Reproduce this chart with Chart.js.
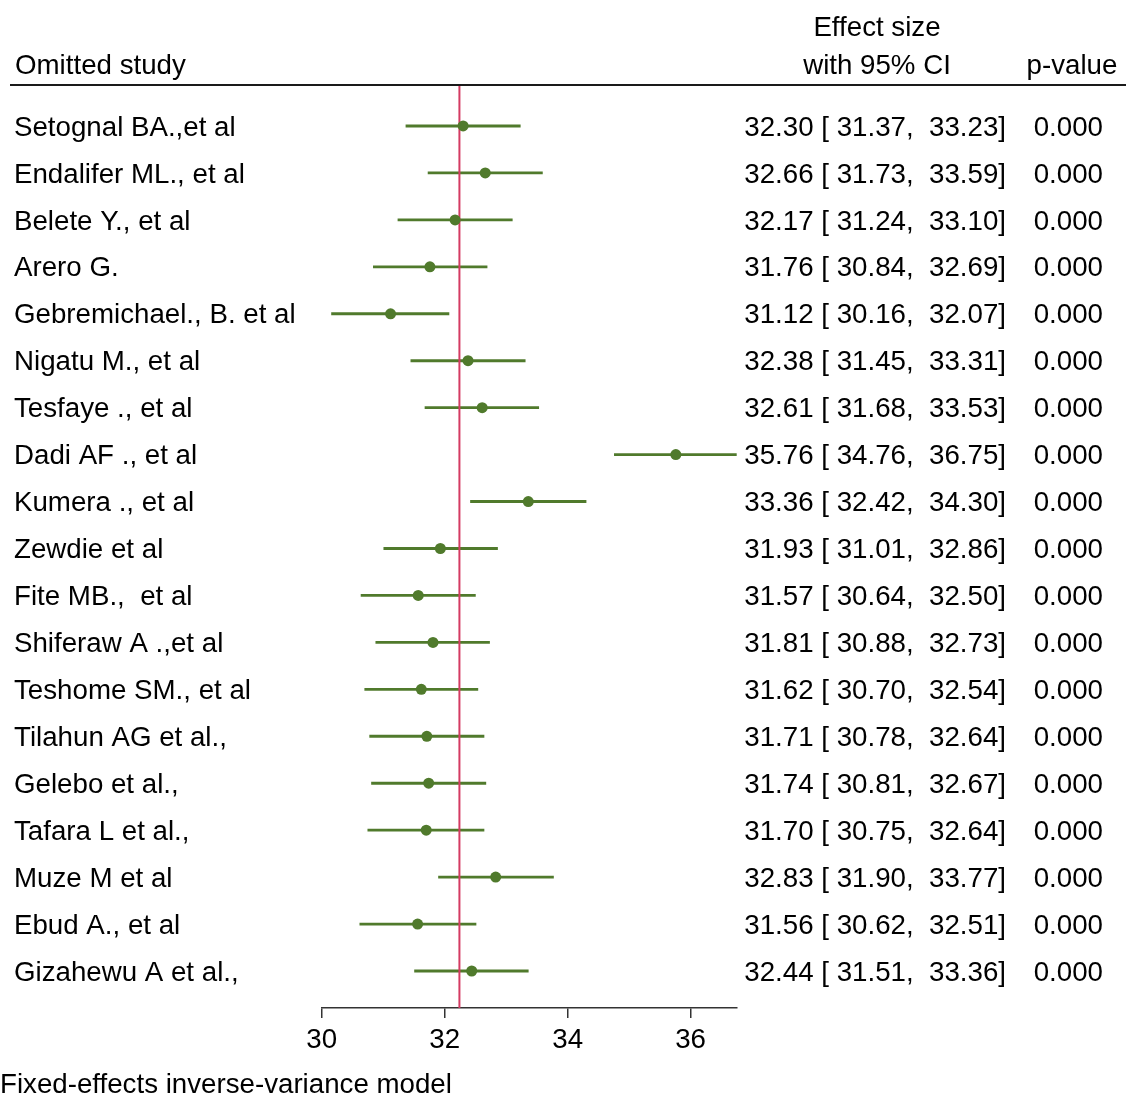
<!DOCTYPE html>
<html>
<head>
<meta charset="utf-8">
<script src="https://cdn.jsdelivr.net/npm/chart.js@4/dist/chart.umd.min.js"></script>
<style>
  html, body { margin: 0; padding: 0; background: #fff; }
  #wrap { width: 1126px; height: 1094px; position: relative; }
</style>
</head>
<body>
<div id="wrap"><canvas id="forest"></canvas></div>
<script>
// leave-one-out results
const studies = [
    'Setognal BA.,et al', 'Endalifer ML., et al', 'Belete Y., et al', 'Arero G.',
    'Gebremichael., B. et al', 'Nigatu M., et al', 'Tesfaye ., et al', 'Dadi AF ., et al',
    'Kumera ., et al', 'Zewdie et al', 'Fite MB.,  et al', 'Shiferaw A .,et al',
    'Teshome SM., et al', 'Tilahun AG et al.,', 'Gelebo et al.,', 'Tafara L et al.,',
    'Muze M et al', 'Ebud A., et al', 'Gizahewu A et al.,'
];
const effect = [32.30, 32.66, 32.17, 31.76, 31.12, 32.38, 32.61, 35.76, 33.36, 31.93,
                31.57, 31.81, 31.62, 31.71, 31.74, 31.70, 32.83, 31.56, 32.44];
const lower = [31.37, 31.73, 31.24, 30.84, 30.16, 31.45, 31.68, 34.76, 32.42, 31.01,
               30.64, 30.88, 30.70, 30.78, 30.81, 30.75, 31.90, 30.62, 31.51];
const upper = [33.23, 33.59, 33.10, 32.69, 32.07, 33.31, 33.53, 36.75, 34.30, 32.86,
               32.50, 32.73, 32.54, 32.64, 32.67, 32.64, 33.77, 32.51, 33.36];
const pvalues = ['0.000', '0.000', '0.000', '0.000', '0.000', '0.000', '0.000', '0.000', '0.000', '0.000',
                 '0.000', '0.000', '0.000', '0.000', '0.000', '0.000', '0.000', '0.000', '0.000'];
const overall = 32.24;
const xTicks = [30, 32, 34, 36];

const FONT = '"Liberation Sans", Arial, Helvetica, sans-serif';
const FSIZE = 27.7;
const GREEN = '#507a2c';
const RED = '#d43b62';

// draws the red overall line between whiskers and dots, plus the text columns
const forestText = {
    id: 'forestText',
    afterDatasetDraw(chart, args) {
        if (args.index !== 1) return;
        const { ctx, chartArea } = chart;
        const x = chart.scales.x.getPixelForValue(overall);
        ctx.save();
        ctx.strokeStyle = RED;
        ctx.lineWidth = 2;
        ctx.beginPath();
        ctx.moveTo(x, chartArea.top);
        ctx.lineTo(x, chartArea.bottom);
        ctx.stroke();
        ctx.restore();
    },
    afterDraw(chart) {
        const { ctx } = chart;
        const y = chart.scales.y;
        ctx.save();
        ctx.fillStyle = '#000';
        ctx.font = FSIZE + 'px ' + FONT;
        ctx.textBaseline = 'middle';

        ctx.textAlign = 'left';
        ctx.fillText('Omitted study', 15, 66);
        ctx.textAlign = 'center';
        ctx.fillText('Effect size', 877, 28);
        ctx.fillText('with 95% CI', 877, 66);
        ctx.fillText('p-value', 1072, 66);

        ctx.strokeStyle = '#1a1a1a';
        ctx.lineWidth = 2;
        ctx.beginPath();
        ctx.moveTo(10, 85);
        ctx.lineTo(1126, 85);
        ctx.stroke();

        effect.forEach((e, i) => {
            const py = y.getPixelForValue(i) + 2;
            ctx.textAlign = 'right';
            ctx.fillText(`${e.toFixed(2)} [ ${lower[i].toFixed(2)},  ${upper[i].toFixed(2)}]`, 1006, py);
            ctx.fillText(pvalues[i], 1103, py);
        });

        ctx.textAlign = 'left';
        ctx.fillText('Fixed-effects inverse-variance model', 0, 1085);
        ctx.restore();
    }
};

new Chart(document.getElementById('forest'), {
    data: {
        labels: studies,
        datasets: [
            {
                type: 'scatter',
                data: effect.map((e, i) => ({ x: e, y: i })),
                backgroundColor: GREEN,
                borderColor: GREEN,
                pointRadius: 5.5,
                pointHoverRadius: 5.5,
                borderWidth: 0,
                order: 1
            },
            {
                type: 'bar',
                data: lower.map((l, i) => ({ x: [l, upper[i]], y: i })),
                backgroundColor: GREEN,
                borderWidth: 0,
                barThickness: 2.2,
                order: 2
            }
        ]
    },
    options: {
        indexAxis: 'y',
        responsive: true,
        maintainAspectRatio: false,
        animation: false,
        events: [],
        layout: { padding: { top: 85, left: 14, right: 389.3, bottom: 0 } },
        plugins: {
            legend: { display: false },
            tooltip: { enabled: false }
        },
        scales: {
            x: {
                type: 'linear',
                position: 'bottom',
                min: 30,
                max: 36.75,
                offset: false,
                afterBuildTicks: s => { s.ticks = xTicks.map(v => ({ value: v })); },
                afterFit: s => { s.height = 86; },
                grid: { drawOnChartArea: false, drawTicks: true, tickLength: 10, color: '#333', lineWidth: 1.5 },
                border: { display: true, color: '#333', width: 1.5 },
                ticks: { color: '#000', font: { family: FONT, size: FSIZE }, padding: 6, autoSkip: false, maxRotation: 0 }
            },
            y: {
                type: 'linear',
                reverse: true,
                min: -0.873,
                max: 18.788,
                offset: false,
                afterBuildTicks: s => { s.ticks = studies.map((_, i) => ({ value: i })); },
                afterFit: s => { s.width = 307.7; },
                grid: { display: false },
                border: { display: false },
                ticks: {
                    color: '#000',
                    font: { family: FONT, size: FSIZE },
                    crossAlign: 'far',
                    autoSkip: false,
                    padding: 0,
                    labelOffset: 2,
                    callback: v => studies[v]
                }
            }
        }
    },
    plugins: [forestText]
});
</script>
</body>
</html>
